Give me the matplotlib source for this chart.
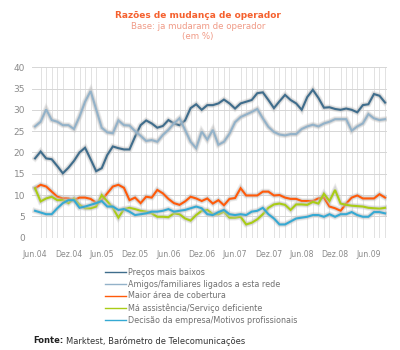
import numpy as np
import matplotlib.pyplot as plt
import matplotlib.patheffects as pe

# dados mensais Jun.04 .. Set.09
months = ['Jun.04', 'Dez.04', 'Jun.05', 'Dez.05', 'Jun.06', 'Dez.06',
          'Jun.07', 'Dez.07', 'Jun.08', 'Dez.08', 'Jun.09']

precos = [18.6, 20.2, 18.6, 18.4, 16.8, 15.1, 16.4, 18.0, 20.0, 21.1,
          18.4, 15.6, 16.3, 19.4, 21.4, 21.0, 20.7, 20.7, 23.7, 26.4,
          27.5, 26.8, 25.8, 26.2, 27.6, 26.8, 26.4, 27.5, 30.4, 31.3,
          30.0, 31.1, 31.1, 31.5, 32.4, 31.5, 30.3, 31.5, 31.9, 32.3,
          33.9, 34.1, 32.3, 30.4, 32.0, 33.5, 32.3, 31.5, 30.0, 33.0,
          34.7, 32.8, 30.5, 30.6, 30.2, 30.0, 30.3, 30.0, 29.4, 31.1,
          31.3, 33.7, 33.3, 31.7]
amigos = [26.1, 27.2, 30.1, 27.6, 27.2, 26.4, 26.4, 25.5, 28.4, 31.9,
          34.4, 30.1, 25.8, 24.7, 24.5, 27.5, 26.4, 26.3, 25.0, 23.9,
          22.7, 22.9, 22.5, 24.1, 25.3, 26.8, 28.0, 25.3, 22.5, 21.0,
          24.9, 23.0, 25.3, 21.8, 22.5, 24.4, 27.1, 28.3, 28.9, 29.5,
          30.2, 28.0, 26.0, 24.8, 24.2, 24.0, 24.3, 24.3, 25.5, 26.1,
          26.5, 26.1, 26.8, 27.2, 27.8, 27.8, 27.8, 25.1, 26.1, 26.8,
          29.0, 28.0, 27.6, 27.8]
cobertura = [11.6, 12.4, 12.0, 10.8, 9.6, 9.2, 9.2, 8.8, 9.4, 9.4,
             9.1, 8.2, 8.8, 10.4, 12.0, 12.4, 11.7, 8.8, 9.4, 8.1,
             9.6, 9.4, 11.2, 10.4, 9.1, 8.1, 7.7, 8.5, 9.6, 9.2,
             8.6, 9.2, 8.0, 8.8, 7.6, 9.1, 9.3, 11.6, 9.9, 9.9,
             9.9, 10.8, 10.8, 9.9, 10.0, 9.4, 9.1, 9.1, 8.6, 8.6,
             8.6, 9.2, 9.4, 7.3, 6.9, 6.3, 8.0, 9.4, 9.9, 9.2,
             9.2, 9.2, 10.2, 9.4]
assistencia = [11.6, 8.5, 9.2, 9.6, 8.8, 8.8, 8.1, 9.2, 7.7, 6.9,
               6.9, 7.3, 10.0, 8.5, 7.0, 4.7, 6.7, 7.0, 6.7, 6.3,
               6.1, 5.7, 4.9, 4.9, 4.8, 5.7, 5.5, 4.5, 4.0, 5.3,
               6.3, 6.5, 5.5, 5.5, 6.1, 4.7, 4.7, 4.9, 3.1, 3.5,
               4.3, 5.5, 7.0, 7.8, 8.0, 7.7, 6.5, 7.8, 7.8, 7.7,
               8.4, 8.0, 10.3, 8.6, 11.2, 8.0, 7.7, 7.5, 7.4, 7.3,
               7.0, 6.9, 6.8, 7.0]
empresa = [6.3, 5.9, 5.5, 5.5, 6.9, 8.1, 8.8, 8.8, 7.0, 7.3,
           7.7, 8.1, 8.6, 7.3, 7.3, 6.5, 6.7, 6.1, 5.3, 5.5,
           5.7, 6.1, 6.1, 6.3, 6.7, 6.1, 6.3, 6.5, 6.9, 7.3,
           6.9, 5.5, 5.3, 6.0, 6.5, 5.5, 5.3, 5.5, 5.3, 6.1,
           6.3, 7.0, 5.5, 4.5, 3.1, 3.1, 3.8, 4.5, 4.7, 4.9,
           5.3, 5.3, 4.9, 5.5, 4.9, 5.5, 5.5, 6.0, 5.3, 4.9,
           4.9, 6.0, 6.0, 5.7]

series = [
    ('Preços mais baixos', precos, '#3f6d8c'),
    ('Amigos/familiares ligados a esta rede', amigos, '#93b2c9'),
    ('Maior área de cobertura', cobertura, '#ff5a0a'),
    ('Má assistência/Serviço deficiente', assistencia, '#a9cc16'),
    ('Decisão da empresa/Motivos profissionais', empresa, '#35a9d3'),
]

x = np.arange(len(precos))

fig = plt.figure(figsize=(4, 3.5), dpi=100)
ax = fig.add_axes([0.08, 0.321, 0.8875, 0.487])

# sombra cinzenta suave à volta das linhas
glow = [pe.Stroke(linewidth=4.2, foreground='#c8c8c8', alpha=0.35),
        pe.Stroke(linewidth=2.8, foreground='#b0b0b0', alpha=0.35),
        pe.Normal()]

for name, vals, col in series:
    ax.plot(x, vals, color=col, lw=1.5, path_effects=glow, label=name,
            solid_joinstyle='miter')

ax.set_ylim(0, 40)
ax.set_xlim(-0.55, len(x) - 1 + 0.35)
ax.set_yticks(np.arange(0, 41, 5))
ax.set_xticks(np.arange(0, len(x), 6))
ax.set_xticklabels(months)
ax.set_xticks(np.arange(0, len(x)), minor=True)
ax.grid(True, axis='x', which='minor', color='#e2e2e2', lw=0.7)
ax.grid(True, axis='y', which='major', color='#d6d6d6', lw=0.7)
ax.set_axisbelow(True)
for s in ax.spines.values():
    s.set_visible(False)
ax.tick_params(axis='both', which='both', length=0, colors='#8a8a8a')
ax.tick_params(axis='y', labelsize=6.5, pad=5)
ax.tick_params(axis='x', labelsize=5.6, pad=9)

# títulos
fig.text(0.495, 0.957, 'Razões de mudança de operador', ha='center', va='center',
         fontsize=6.5, fontweight='bold', color='#f5612f')
fig.text(0.495, 0.925, 'Base: ja mudaram de operador', ha='center', va='center',
         fontsize=6.2, color='#f09a86')
fig.text(0.495, 0.896, '(em %)', ha='center', va='center',
         fontsize=6.2, color='#f09a86')

# legenda
handles = [plt.Line2D([], [], color=c, lw=1) for _, _, c in series]
labels = [n for n, _, _ in series]
fig.legend(handles, labels, loc='upper left', bbox_to_anchor=(0.262, 0.235),
           frameon=False, fontsize=5.8, handlelength=2.6, handletextpad=0.3,
           labelspacing=0.35, borderpad=0, borderaxespad=0, labelcolor='#707070')

fig.text(0.083, 0.026, 'Fonte:', ha='left', va='center', fontsize=6,
         fontweight='bold', color='#222222')
fig.text(0.166, 0.026, 'Marktest, Barómetro de Telecomunicações', ha='left',
         va='center', fontsize=6, color='#333333')

fig.savefig('out.png', dpi=100, facecolor='white')
